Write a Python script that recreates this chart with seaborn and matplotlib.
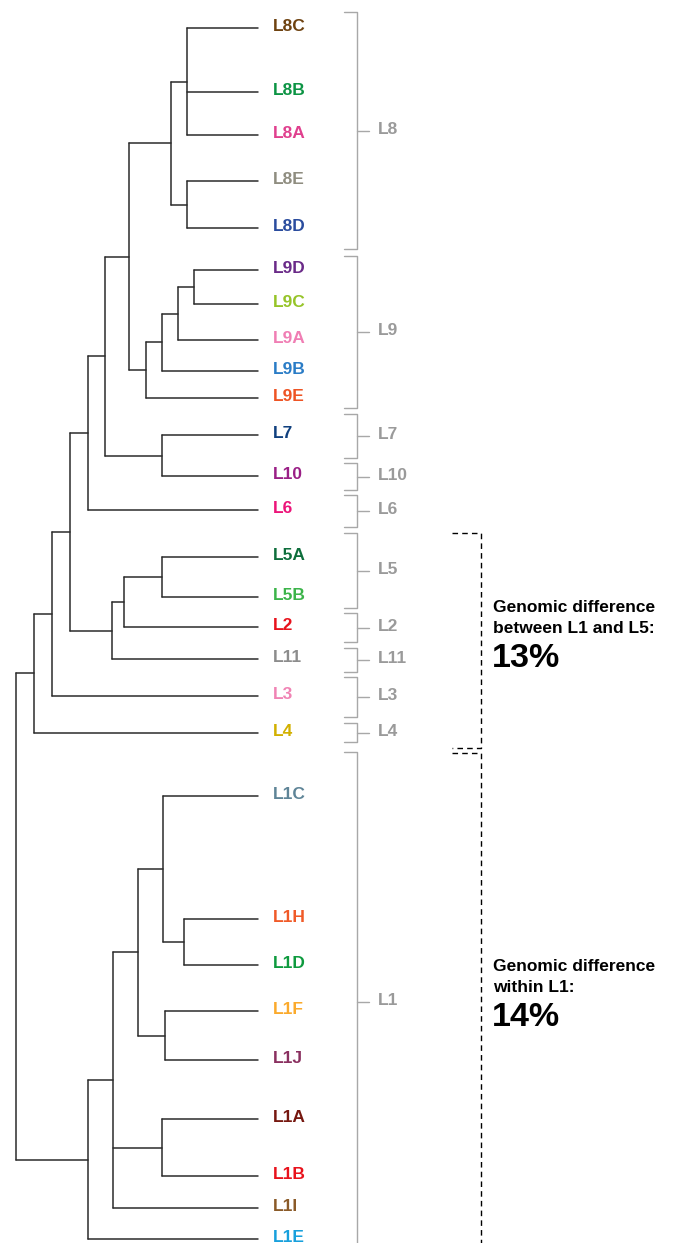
import matplotlib
matplotlib.use("Agg")
import matplotlib.pyplot as plt
import seaborn as sns
import pandas as pd

# leaves, top to bottom (y = vertical position)
leaf_names = ["L8C", "L8B", "L8A", "L8E", "L8D",
              "L9D", "L9C", "L9A", "L9B", "L9E",
              "L7", "L10", "L6", "L5A", "L5B", "L2", "L11", "L3", "L4",
              "L1C", "L1H", "L1D", "L1F", "L1J", "L1A", "L1B", "L1I", "L1E"]
leaf_y = [28, 92, 135, 181, 228,
          270, 304, 340, 371, 398,
          435, 476, 510, 557, 597, 627, 659, 696, 733,
          796, 919, 965, 1011, 1060, 1119, 1176, 1208, 1239]
leaf_colors = ["#6E4210", "#0C9444", "#E0408E", "#8F8D80", "#2A4C9E",
               "#6A2A88", "#96C428", "#F07EB4", "#2A7CC6", "#EE5424",
               "#10407E", "#9A1F86", "#EC1479", "#0E6E3C", "#3CB44A",
               "#E8121C", "#8C8C8C", "#F083B4", "#D2B000",
               "#5E8497", "#F05A28", "#0E9A3E", "#FBAA2C", "#8A3060",
               "#761810", "#E8121C", "#8A5A28", "#18A0DC"]
leaf_depth = 258

# internal nodes: name, depth (horizontal position), children
node_names = ["n8cba", "n8ed", "n8", "n9dc", "n9dca", "n9dcab", "n9",
              "n8_9", "n7_10", "n8_10", "n6", "n5", "n5_2", "n5_11",
              "n6_5", "n3", "n4",
              "n1hd", "n1chd", "n1fj", "n1c_j", "n1ab", "n1ai", "n1", "root"]
node_depth = [187, 187, 171, 194, 178, 162, 146,
              129, 162, 105, 88, 162, 124, 112,
              70, 52, 34,
              184, 163, 165, 138, 162, 113, 88, 16]
node_children = [["L8C", "L8B", "L8A"], ["L8E", "L8D"], ["n8cba", "n8ed"],
                 ["L9D", "L9C"], ["n9dc", "L9A"], ["n9dca", "L9B"], ["n9dcab", "L9E"],
                 ["n8", "n9"], ["L7", "L10"], ["n8_9", "n7_10"], ["n8_10", "L6"],
                 ["L5A", "L5B"], ["n5", "L2"], ["n5_2", "L11"],
                 ["n6", "n5_11"], ["n6_5", "L3"], ["n3", "L4"],
                 ["L1H", "L1D"], ["L1C", "n1hd"], ["L1F", "L1J"], ["n1chd", "n1fj"],
                 ["L1A", "L1B"], ["n1c_j", "n1ab", "L1I"], ["n1ai", "L1E"],
                 ["n4", "n1"]]

# lineage brackets on the right
group_names = ["L8", "L9", "L7", "L10", "L6", "L5", "L2", "L11", "L3", "L4", "L1"]
group_top = [12, 256, 414, 463, 495, 533, 613, 648, 677, 723, 752]
group_bottom = [249, 408, 458, 490, 527, 608, 642, 672, 717, 742, 1252]

# dashed comparison brackets
compare_top = [533, 753]
compare_bottom = [748, 1260]
compare_head = [["Genomic difference", "between L1 and L5:"], ["Genomic difference", "within L1:"]]
compare_value = ["13%", "14%"]
compare_baseline = [612, 971]

sns.set_theme(style="white")
plt.rcParams['font.family'] = ['Liberation Sans', 'DejaVu Sans']

fig = plt.figure(figsize=(6.81, 12.43), dpi=100)
ax = fig.add_axes([0, 0, 1, 1])

pos = {n: (leaf_depth, y) for n, y in zip(leaf_names, leaf_y)}
node_map = {n: (d, c) for n, d, c in zip(node_names, node_depth, node_children)}


def place(name):
    if name in pos:
        return pos[name]
    d, kids = node_map[name]
    ys = [place(k)[1] for k in kids]
    pos[name] = (d, (min(ys) + max(ys)) / 2)
    return pos[name]


rows = []
seg = 0
for name in node_names:
    d, kids = node_map[name]
    place(name)
    ys = [pos[k][1] for k in kids]
    rows += [(seg, d, min(ys)), (seg, d, max(ys))]
    seg += 1
    for k in kids:
        rows += [(seg, d, pos[k][1]), (seg, pos[k][0], pos[k][1])]
        seg += 1
tree = pd.DataFrame(rows, columns=["seg", "x", "y"])
sns.lineplot(data=tree, x="x", y="y", units="seg", estimator=None, sort=False,
             color="#2b2b2b", lw=1.1, ax=ax, legend=False)

for n, y, c in zip(leaf_names, leaf_y, leaf_colors):
    ax.text(273, y - 1.5, n, color=c, fontsize=12.5, fontweight="bold", va="center", ha="left")

# brackets
rows = []
seg = 0
for g, t, b in zip(group_names, group_top, group_bottom):
    m = (t + b) / 2
    rows += [(seg, 344, t), (seg, 357, t), (seg, 357, b), (seg, 344, b)]
    seg += 1
    rows += [(seg, 357, m), (seg, 369, m)]
    seg += 1
    ax.text(378, m - 1.5, g, color="#9a9a9a", fontsize=12.5, fontweight="bold", va="center", ha="left")
br = pd.DataFrame(rows, columns=["seg", "x", "y"])
sns.lineplot(data=br, x="x", y="y", units="seg", estimator=None, sort=False,
             color="#a8a8a8", lw=1.0, ax=ax, legend=False)

for t, b, head, val, base in zip(compare_top, compare_bottom, compare_head, compare_value, compare_baseline):
    ax.plot([452, 481, 481, 452], [t, t, b, b], color="black", lw=1.0,
            linestyle=(0, (4, 3)))
    for i, line in enumerate(head):
        ax.text(493, base + 21 * i, line, fontsize=12.5, fontweight="bold",
                va="baseline", ha="left", color="black")
    ax.text(492, base + 55, val, fontsize=24.5, fontweight="bold",
            va="baseline", ha="left", color="black")

ax.set_xlim(0, 681)
ax.set_ylim(1243, 0)
ax.set_axis_off()
fig.savefig("out.png", dpi=100)
